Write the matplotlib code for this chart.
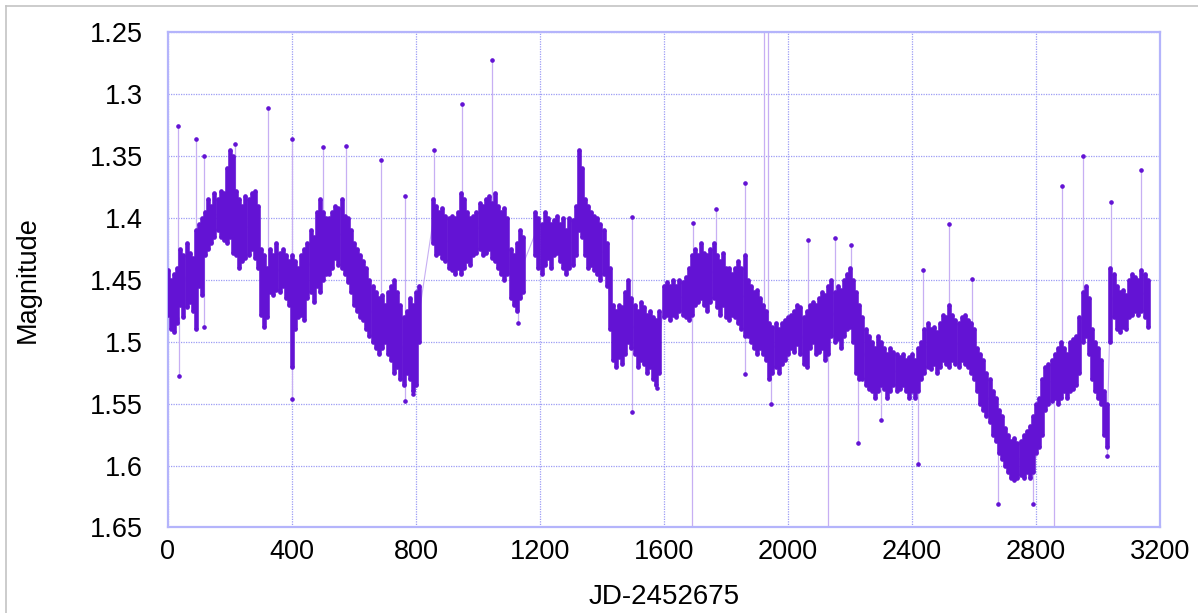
#!/usr/bin/env python3
"""Light curve (magnitude vs JD-2452675), gnuplot-like look."""
import matplotlib
matplotlib.use("Agg")
import matplotlib.pyplot as plt
from matplotlib.lines import Line2D

# band of the light curve, every ~10 days:
# brightest and faintest magnitude seen around each date
jd = [0, 10, 20, 30, 40, 50, 60, 70, 80, 90, 100, 110, 120, 130, 140, 150, 160, 170,
      180, 190, 200, 210, 220, 230, 240, 250, 260, 270, 280, 290, 300, 310, 320, 330,
      340, 350, 360, 370, 380, 390, 400, 410, 420, 430, 440, 450, 460, 470, 480, 490,
      500, 510, 520, 530, 540, 550, 560, 570, 580, 590, 600, 610, 620, 630, 640, 650,
      660, 670, 680, 690, 700, 710, 720, 730, 740, 750, 760, 770, 780, 790, 800, 810,
      855, 865, 875, 885, 895, 905, 915, 925, 935, 945, 955, 965, 975, 985, 995, 1005,
      1015, 1025, 1035, 1045, 1055, 1065, 1075, 1085, 1095, 1105, 1115, 1125, 1135, 1145,
      1185, 1195, 1205, 1215, 1225, 1235, 1245, 1255, 1265, 1275, 1285, 1295, 1305, 1315,
      1325, 1335, 1345, 1355, 1365, 1375, 1385, 1395, 1405, 1415, 1425, 1435, 1445, 1455,
      1465, 1475, 1485, 1495, 1505, 1515, 1525, 1535, 1545, 1555, 1565, 1575, 1585,
      1600, 1610, 1620, 1630, 1640, 1650, 1660, 1670, 1680, 1690, 1700, 1710, 1720, 1730,
      1740, 1750, 1760, 1770, 1780, 1790, 1800, 1810, 1820, 1830, 1840, 1850, 1860, 1870,
      1880, 1890, 1900, 1910, 1920, 1930, 1940, 1950, 1960, 1970, 1980, 1990, 2000, 2010,
      2020, 2030, 2040, 2050, 2060, 2070, 2080, 2090, 2100, 2110, 2120, 2130, 2140, 2150,
      2160, 2170, 2180, 2190, 2200, 2210, 2220, 2230, 2240, 2250, 2260, 2270, 2280, 2290,
      2300, 2310, 2320, 2330, 2340, 2350, 2360, 2370, 2380, 2390, 2400, 2410, 2420, 2430,
      2440, 2450, 2460, 2470, 2480, 2490, 2500, 2510, 2520, 2530, 2540, 2550, 2560, 2570,
      2580, 2590, 2600, 2610, 2620, 2630, 2640, 2650, 2660, 2670, 2680, 2690, 2700, 2710,
      2720, 2730, 2740, 2750, 2760, 2770, 2780, 2790, 2800, 2810, 2820, 2830, 2840, 2850,
      2860, 2870, 2880, 2890, 2900, 2910, 2920, 2930, 2940, 2950, 2960, 2970, 2980, 2990,
      3000, 3010, 3020, 3030, 3040, 3050, 3060, 3070, 3080, 3090, 3100, 3110, 3120, 3130,
      3140, 3150, 3160]
mag_bright = [1.442, 1.450, 1.445, 1.440, 1.425, 1.430, 1.420, 1.428, 1.432, 1.410, 1.405,
              1.400, 1.395, 1.385, 1.390, 1.380, 1.385, 1.378, 1.380, 1.360, 1.345, 1.350,
              1.378, 1.385, 1.390, 1.382, 1.385, 1.380, 1.378, 1.390, 1.425, 1.430, 1.440,
              1.425, 1.430, 1.420, 1.428, 1.425, 1.430, 1.435, 1.430, 1.435, 1.440, 1.430,
              1.425, 1.420, 1.410, 1.415, 1.395, 1.385, 1.395, 1.400, 1.400, 1.395, 1.390,
              1.392, 1.385, 1.398, 1.400, 1.410, 1.420, 1.425, 1.430, 1.435, 1.440, 1.450,
              1.455, 1.460, 1.465, 1.462, 1.470, 1.460, 1.455, 1.450, 1.460, 1.470, 1.480,
              1.475, 1.465, 1.470, 1.460, 1.455,
              1.385, 1.390, 1.395, 1.392, 1.398, 1.400, 1.398, 1.400, 1.395, 1.380, 1.385,
              1.395, 1.400, 1.398, 1.395, 1.388, 1.390, 1.385, 1.382, 1.388, 1.380, 1.390,
              1.395, 1.392, 1.400, 1.425, 1.430, 1.420, 1.410, 1.415,
              1.395, 1.400, 1.405, 1.395, 1.400, 1.405, 1.402, 1.398, 1.405, 1.400, 1.410,
              1.400, 1.402, 1.390, 1.345, 1.360, 1.385, 1.390, 1.395, 1.398, 1.400, 1.405,
              1.410, 1.420, 1.440, 1.470, 1.475, 1.470, 1.472, 1.460, 1.450, 1.465, 1.470,
              1.475, 1.468, 1.472, 1.478, 1.475, 1.480, 1.482, 1.475,
              1.455, 1.452, 1.455, 1.450, 1.455, 1.450, 1.452, 1.448, 1.440, 1.430, 1.425,
              1.430, 1.420, 1.428, 1.430, 1.425, 1.420, 1.430, 1.435, 1.428, 1.440, 1.440,
              1.445, 1.440, 1.435, 1.440, 1.430, 1.450, 1.455, 1.460, 1.458, 1.465, 1.470,
              1.475, 1.485, 1.488, 1.485, 1.490, 1.485, 1.482, 1.480, 1.478, 1.475, 1.470,
              1.472, 1.480, 1.475, 1.470, 1.468, 1.470, 1.465, 1.460, 1.462, 1.455, 1.450,
              1.460, 1.455, 1.458, 1.450, 1.445, 1.440, 1.450, 1.460, 1.470, 1.480, 1.490,
              1.495, 1.500, 1.505, 1.495, 1.500, 1.505, 1.510, 1.505, 1.508, 1.510, 1.512,
              1.510, 1.515, 1.512, 1.510, 1.515, 1.505, 1.500, 1.490, 1.485, 1.490, 1.488,
              1.492, 1.485, 1.478, 1.480, 1.470, 1.478, 1.482, 1.485, 1.480, 1.478, 1.482,
              1.485, 1.490, 1.505, 1.510, 1.515, 1.525, 1.530, 1.540, 1.545, 1.555, 1.560,
              1.570, 1.575, 1.580, 1.578, 1.582, 1.580, 1.575, 1.572, 1.568, 1.560, 1.550,
              1.545, 1.530, 1.520, 1.518, 1.515, 1.510, 1.505, 1.500, 1.505, 1.510, 1.500,
              1.498, 1.495, 1.480, 1.460, 1.455, 1.465, 1.490, 1.500, 1.505, 1.515, 1.540,
              1.550, 1.440, 1.445, 1.455, 1.460, 1.458, 1.462, 1.450, 1.445, 1.448, 1.450,
              1.442, 1.445, 1.450]
mag_faint = [1.478, 1.490, 1.492, 1.485, 1.470, 1.480, 1.472, 1.468, 1.475, 1.490, 1.455,
             1.462, 1.430, 1.425, 1.420, 1.415, 1.410, 1.415, 1.418, 1.420, 1.415, 1.428,
             1.430, 1.440, 1.435, 1.432, 1.430, 1.425, 1.432, 1.440, 1.478, 1.488, 1.480,
             1.460, 1.462, 1.458, 1.460, 1.455, 1.465, 1.470, 1.520, 1.490, 1.480, 1.478,
             1.482, 1.465, 1.460, 1.468, 1.455, 1.460, 1.450, 1.445, 1.445, 1.440, 1.432,
             1.438, 1.440, 1.445, 1.452, 1.460, 1.470, 1.475, 1.480, 1.482, 1.490, 1.495,
             1.500, 1.505, 1.510, 1.505, 1.500, 1.510, 1.515, 1.525, 1.520, 1.530, 1.535,
             1.525, 1.530, 1.540, 1.535, 1.500,
             1.420, 1.430, 1.428, 1.432, 1.435, 1.440, 1.442, 1.445, 1.440, 1.445, 1.440,
             1.435, 1.438, 1.430, 1.428, 1.425, 1.430, 1.428, 1.425, 1.432, 1.435, 1.440,
             1.445, 1.450, 1.445, 1.465, 1.470, 1.475, 1.465, 1.460,
             1.430, 1.440, 1.445, 1.438, 1.432, 1.440, 1.430, 1.428, 1.435, 1.440, 1.445,
             1.440, 1.438, 1.430, 1.410, 1.415, 1.430, 1.440, 1.438, 1.442, 1.445, 1.450,
             1.445, 1.455, 1.490, 1.515, 1.520, 1.512, 1.518, 1.510, 1.500, 1.505, 1.510,
             1.520, 1.515, 1.518, 1.525, 1.520, 1.530, 1.535, 1.525,
             1.480, 1.478, 1.482, 1.478, 1.480, 1.475, 1.478, 1.480, 1.482, 1.478, 1.470,
             1.468, 1.465, 1.470, 1.475, 1.468, 1.465, 1.472, 1.478, 1.470, 1.480, 1.482,
             1.478, 1.480, 1.485, 1.490, 1.495, 1.495, 1.500, 1.505, 1.510, 1.505, 1.510,
             1.515, 1.530, 1.525, 1.520, 1.525, 1.518, 1.515, 1.510, 1.505, 1.508, 1.502,
             1.510, 1.518, 1.520, 1.505, 1.500, 1.510, 1.508, 1.505, 1.515, 1.510, 1.495,
             1.500, 1.498, 1.505, 1.495, 1.490, 1.488, 1.500, 1.525, 1.530, 1.530, 1.535,
             1.538, 1.540, 1.545, 1.540, 1.535, 1.538, 1.545, 1.540, 1.535, 1.540, 1.538,
             1.535, 1.540, 1.545, 1.540, 1.545, 1.540, 1.530, 1.525, 1.520, 1.522, 1.518,
             1.525, 1.520, 1.515, 1.518, 1.520, 1.515, 1.518, 1.520, 1.515, 1.518, 1.520,
             1.525, 1.530, 1.540, 1.550, 1.555, 1.560, 1.565, 1.575, 1.580, 1.590, 1.595,
             1.600, 1.605, 1.610, 1.612, 1.610, 1.608, 1.610, 1.605, 1.610, 1.605, 1.590,
             1.585, 1.575, 1.555, 1.550, 1.548, 1.545, 1.550, 1.545, 1.540, 1.545, 1.540,
             1.538, 1.535, 1.525, 1.500, 1.495, 1.510, 1.530, 1.540, 1.545, 1.550, 1.575,
             1.585, 1.500, 1.480, 1.490, 1.492, 1.488, 1.490, 1.480, 1.478, 1.475, 1.478,
             1.475, 1.480, 1.488]

# isolated excursions: date, the extreme magnitude it reaches, and where it starts
spike_jd = [32, 34, 90, 117, 115, 215, 322, 399, 399, 499, 573, 686, 763, 763, 792,
            857, 950, 1046, 1130, 1496, 1496, 1576, 1694, 1769, 1860, 1860, 1944, 2066,
            2150, 2203, 2227, 2300, 2418, 2434, 2518, 2594, 2677, 2791, 2883, 2952,
            3030, 3043, 3140]
spike_mag = [1.326, 1.528, 1.336, 1.350, 1.488, 1.340, 1.311, 1.336, 1.546, 1.343, 1.342,
             1.353, 1.382, 1.548, 1.542, 1.345, 1.308, 1.272, 1.485, 1.399, 1.557, 1.537,
             1.404, 1.393, 1.372, 1.526, 1.550, 1.418, 1.416, 1.422, 1.582, 1.563, 1.599,
             1.442, 1.405, 1.449, 1.631, 1.631, 1.374, 1.350, 1.592, 1.387, 1.361]
spike_base = [1.460, 1.480, 1.430, 1.400, 1.430, 1.380, 1.450, 1.450, 1.500, 1.420, 1.410,
              1.460, 1.480, 1.520, 1.520, 1.400, 1.400, 1.400, 1.450, 1.470, 1.500, 1.520,
              1.450, 1.440, 1.450, 1.480, 1.510, 1.480, 1.470, 1.470, 1.500, 1.530, 1.530,
              1.510, 1.480, 1.490, 1.570, 1.600, 1.520, 1.470, 1.570, 1.470, 1.450]

# points that fall outside the plotted range (lines run off the frame)
off_jd = [1689, 1923, 1937, 2130, 2857]
off_from = [1.470, 1.470, 1.485, 1.500, 1.545]
off_to = [1.80, 1.10, 1.10, 1.80, 1.80]

x_ticks = [0, 400, 800, 1200, 1600, 2000, 2400, 2800, 3200]
y_ticks = [1.25, 1.3, 1.35, 1.4, 1.45, 1.5, 1.55, 1.6, 1.65]
y_labels = ["1.25", "1.3", "1.35", "1.4", "1.45", "1.5", "1.55", "1.6", "1.65"]

POINT = "#6313d4"
LINE = "#c7aff3"
GRID = "#9c9cf5"

def main():
    plt.rcParams["font.family"] = ["Liberation Sans", "DejaVu Sans"]
    fig = plt.figure(figsize=(11.98, 6.13), dpi=100)
    ax = fig.add_axes([0.1402, 0.1395, 0.8281, 0.8078])

    mid = [(b + f) / 2 for b, f in zip(mag_bright, mag_faint)]
    ax.plot(jd, mid, color=LINE, linewidth=0.8, zorder=2)
    ax.vlines(off_jd, off_from, off_to, color=LINE, linewidth=0.9, zorder=2)
    ax.vlines(spike_jd, spike_base, spike_mag, color=LINE, linewidth=0.9, zorder=2)
    ax.vlines(jd, mag_bright, mag_faint, color=POINT, linewidth=3.3, zorder=3)
    ax.plot(jd, mag_bright, "o", color=POINT, markersize=2.3, zorder=4)
    ax.plot(jd, mag_faint, "o", color=POINT, markersize=2.3, zorder=4)
    ax.plot(spike_jd, spike_mag, "o", color=POINT, markersize=2.3, zorder=4)

    ax.set_xlim(0, 3200)
    ax.set_ylim(1.65, 1.25)
    ax.set_xticks(x_ticks)
    ax.set_yticks(y_ticks)
    ax.set_yticklabels(y_labels)
    ax.tick_params(length=0, labelsize=19.5, colors="black")
    ax.tick_params(axis="y", pad=18)
    ax.tick_params(axis="x", pad=8)
    ax.grid(True, color=GRID, linestyle=(0, (1, 1)), linewidth=0.9)
    for sp in ax.spines.values():
        sp.set_color("#b4b4fb")
        sp.set_linewidth(1.6)

    ax.set_xlabel("JD-2452675", fontsize=20)
    ax.set_ylabel("Magnitude", fontsize=19.5)
    ax.xaxis.set_label_coords(0.5, -0.115)
    ax.yaxis.set_label_coords(-0.128, 0.5)

    # thin grey frame round the picture (left and top edges visible)
    fig.add_artist(Line2D([6 / 1198, 6 / 1198], [0, 1 - 6 / 613],
                          transform=fig.transFigure, color="#c4c4c4", linewidth=1.2))
    fig.add_artist(Line2D([6 / 1198, 1], [1 - 6 / 613, 1 - 6 / 613],
                          transform=fig.transFigure, color="#c4c4c4", linewidth=1.2))

    fig.savefig("out.png", dpi=100)

if __name__ == "__main__":
    main()
